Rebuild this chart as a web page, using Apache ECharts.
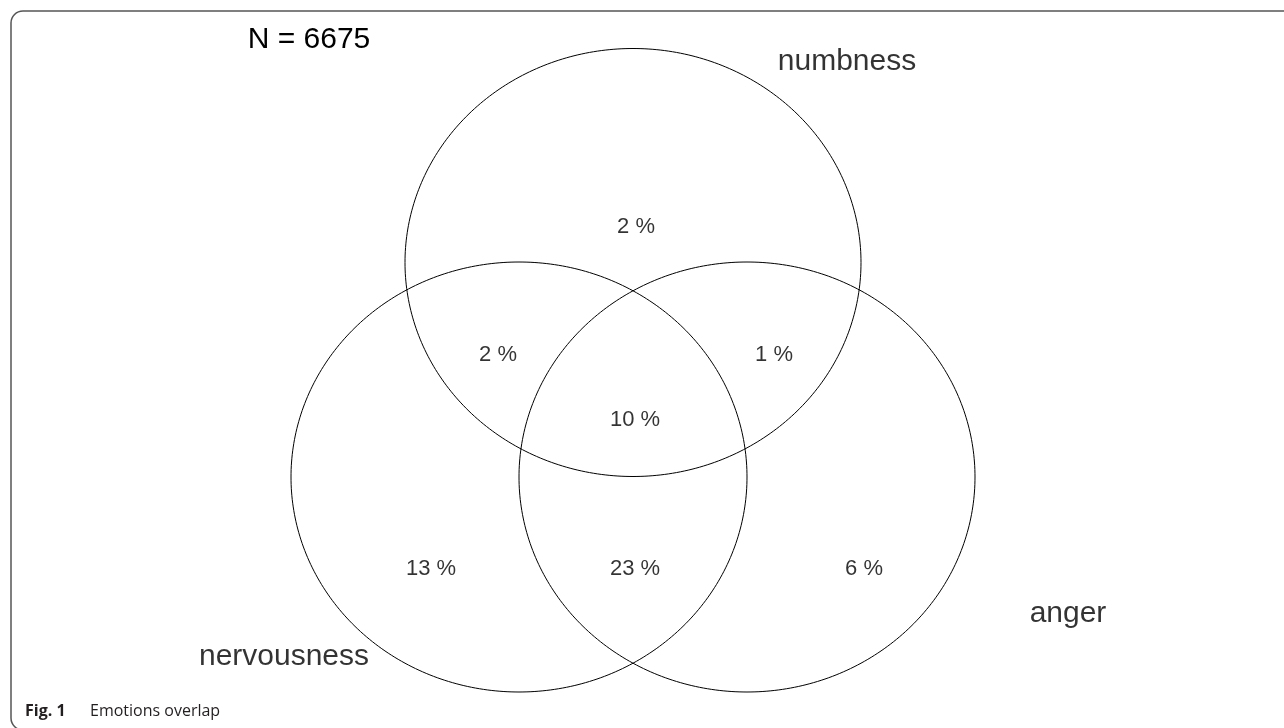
<!DOCTYPE html>
<html>
<head>
<meta charset="utf-8">
<script src="https://cdn.jsdelivr.net/npm/echarts@6/dist/echarts.min.js"></script>
<style>
html,body{margin:0;padding:0;background:#ffffff;}
#chart{width:1284px;height:728px;}
</style>
</head>
<body>
<div id="chart"></div>
<script>
// ---- data (diagram units) ----
const setNames = ['numbness', 'nervousness', 'anger'];
const setCx = [633, 519, 747];
const setCy = [262.5, 477, 477];
const setRx = [228, 228, 228];
const setRy = [214, 215, 215];
const setLabelX = [847, 284, 1068];
const setLabelY = [62, 657, 614];

const regionNames = ['numbness only', 'numbness & nervousness', 'numbness & anger', 'all three',
                     'nervousness only', 'nervousness & anger', 'anger only'];
const regionPct = [2, 2, 1, 10, 13, 23, 6];
const regionX = [636, 498, 774, 635, 431, 635, 864];
const regionY = [227, 355, 355, 420, 569, 569, 569];

const sampleSize = 6675;
const captionLabel = 'Fig. 1';
const captionText = 'Emotions overlap';

// ---- chart ----
const chart = echarts.init(document.getElementById('chart'), null, {renderer: 'canvas'});

const ellipseData = setNames.map((n, i) => ({name: n, value: [setCx[i], setCy[i], setRx[i], setRy[i]]}));
const setLabelData = setNames.map((n, i) => ({name: n, value: [setLabelX[i], setLabelY[i]]}));
const regionData = regionNames.map((n, i) => ({name: n, value: [regionX[i], regionY[i], regionPct[i]]}));

const option = {
  animation: false,
  backgroundColor: '#ffffff',
  grid: {left: 0, right: 0, top: 0, bottom: 0},
  xAxis: {type: 'value', min: 0, max: 1284, show: false},
  yAxis: {type: 'value', min: 0, max: 728, inverse: true, show: false},
  graphic: [
    {
      type: 'rect',
      shape: {x: 11, y: 11, width: 1300, height: 719, r: 12},
      style: {fill: 'none', stroke: '#555555', lineWidth: 1.5},
      silent: true
    },
    {
      type: 'text',
      x: 309, y: 40,
      style: {
        text: 'N = ' + sampleSize,
        fill: '#000000',
        font: '30px "Liberation Sans", Arial, sans-serif',
        textAlign: 'center',
        textVerticalAlign: 'middle'
      }
    },
    {
      type: 'text',
      x: 25, y: 711,
      style: {
        text: captionLabel,
        fill: '#231f20',
        font: 'bold 16px "Open Sans", "Noto Sans", sans-serif',
        textAlign: 'left',
        textVerticalAlign: 'middle'
      }
    },
    {
      type: 'text',
      x: 90, y: 711,
      style: {
        text: captionText,
        fill: '#231f20',
        font: '16px "Open Sans", "Noto Sans", sans-serif',
        textAlign: 'left',
        textVerticalAlign: 'middle'
      }
    }
  ],
  series: [
    {
      type: 'custom',
      coordinateSystem: 'cartesian2d',
      silent: true,
      data: ellipseData,
      renderItem: function (params, api) {
        const cx = api.value(0), cy = api.value(1), rx = api.value(2), ry = api.value(3);
        const pts = [];
        for (let k = 0; k < 360; k++) {
          const t = k * Math.PI / 180;
          pts.push(api.coord([cx + rx * Math.cos(t), cy + ry * Math.sin(t)]));
        }
        return {
          type: 'polygon',
          shape: {points: pts},
          style: {fill: 'none', stroke: '#000000', lineWidth: 1}
        };
      }
    },
    {
      type: 'scatter',
      silent: true,
      symbolSize: 0,
      data: regionData,
      label: {
        show: true,
        position: 'inside',
        formatter: function (p) { return p.value[2] + ' %'; },
        color: '#000000',
        fontSize: 22,
        fontFamily: '"Liberation Sans", Arial, sans-serif'
      }
    },
    {
      type: 'scatter',
      silent: true,
      symbolSize: 0,
      data: setLabelData,
      label: {
        show: true,
        position: 'inside',
        formatter: function (p) { return p.name; },
        color: '#000000',
        fontSize: 30,
        fontFamily: '"Liberation Sans", Arial, sans-serif'
      }
    }
  ]
};

chart.setOption(option);
</script>
</body>
</html>
